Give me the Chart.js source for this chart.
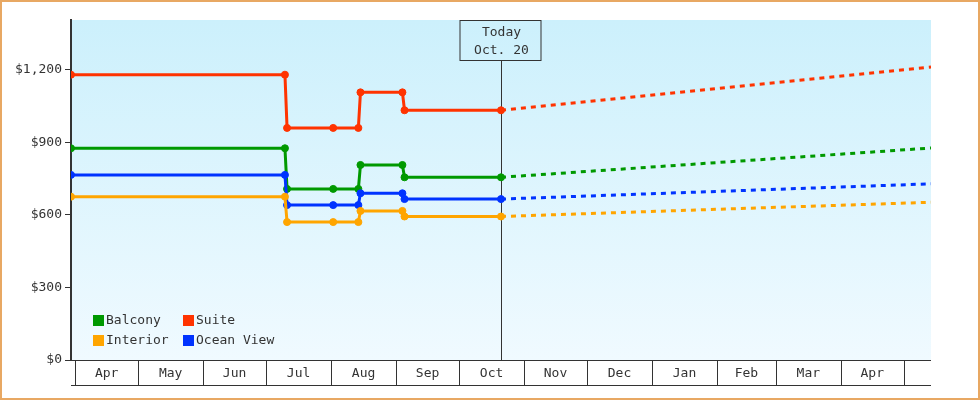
<!DOCTYPE html>
<html>
<head>
<meta charset="utf-8">
<script src="https://cdn.jsdelivr.net/npm/chart.js@4.4.1/dist/chart.umd.min.js"></script>
<style>
  html, body { margin: 0; padding: 0; background: #fff; }
  #wrap { width: 980px; height: 400px; position: relative; }
</style>
</head>
<body>
<div id="wrap"><canvas id="fareChart" width="980" height="400"></canvas></div>
<script>
// ---- data (x = days since Apr 1) ----
const priceDays = [-2, 100, 101, 123, 135, 136, 156, 157, 203];
const balcony = [875, 875, 707, 707, 707, 806, 806, 755, 755];
const suite = [1179, 1179, 959, 959, 959, 1106, 1106, 1032, 1032];
const interior = [675, 675, 570, 570, 570, 616, 616, 593, 593];
const oceanView = [765, 765, 640, 640, 640, 689, 689, 665, 665];

const forecastDays = [203, 408];
const balconyForecast = [755, 876];
const suiteForecast = [1032, 1211];
const interiorForecast = [593, 652];
const oceanViewForecast = [665, 728];

const monthLabels = ['Apr', 'May', 'Jun', 'Jul', 'Aug', 'Sep', 'Oct', 'Nov', 'Dec', 'Jan', 'Feb', 'Mar', 'Apr'];
const monthStarts = [0, 30, 61, 91, 122, 153, 183, 214, 244, 275, 306, 334, 365, 395];
const yTicks = [0, 300, 600, 900, 1200];

const todayDay = 203;
const todayLines = ['Today', 'Oct. 20'];

const COLORS = {
    balcony: '#009900',
    suite: '#ff3300',
    interior: '#ffa500',
    oceanView: '#0033ff'
};
const INK = '#333333';
const FONT = "'DejaVu Sans Mono', monospace";

function toPoints(days, values) {
    return days.map((d, i) => ({ x: d, y: values[i] }));
}

function solidSet(label, values, color) {
    return {
        label: label,
        data: toPoints(priceDays, values),
        borderColor: color,
        backgroundColor: color,
        borderWidth: 3,
        pointRadius: 3.5,
        pointHoverRadius: 3.5,
        pointBorderWidth: 1,
        showLine: true
    };
}

function dashedSet(label, values, color) {
    return {
        label: label,
        data: toPoints(forecastDays, values),
        borderColor: color,
        backgroundColor: color,
        borderWidth: 3,
        borderDash: [5, 5],
        pointRadius: 0,
        showLine: true
    };
}

// fond dégradé, bordure orange
const backdropPlugin = {
    id: 'backdrop',
    beforeDraw(chart) {
        const { ctx, chartArea } = chart;
        ctx.save();
        ctx.fillStyle = '#ffffff';
        ctx.fillRect(0, 0, chart.width, chart.height);
        const g = ctx.createLinearGradient(0, chartArea.top, 0, chartArea.bottom);
        g.addColorStop(0, '#ccf0fc');
        g.addColorStop(1, '#f0faff');
        ctx.fillStyle = g;
        ctx.fillRect(chartArea.left, chartArea.top, chartArea.right - chartArea.left, chartArea.bottom - chartArea.top);
        ctx.strokeStyle = '#e8a863';
        ctx.lineWidth = 2;
        ctx.strokeRect(1, 1, chart.width - 2, chart.height - 2);
        ctx.restore();
    }
};

// repère "Today"
const todayPlugin = {
    id: 'today',
    beforeDatasetsDraw(chart) {
        const { ctx, chartArea, scales } = chart;
        const x = Math.round(scales.x.getPixelForValue(todayDay)) + 0.5;
        const boxW = 81, boxH = 40;
        const top = chartArea.top;
        ctx.save();
        ctx.strokeStyle = INK;
        ctx.lineWidth = 1;
        ctx.beginPath();
        ctx.moveTo(x, top + boxH);
        ctx.lineTo(x, chartArea.bottom);
        ctx.stroke();
        ctx.strokeRect(Math.round(x - boxW / 2) - 1, top + 0.5, boxW, boxH);
        ctx.fillStyle = INK;
        ctx.font = '13px ' + FONT;
        ctx.textAlign = 'center';
        ctx.textBaseline = 'middle';
        ctx.fillText(todayLines[0], x, top + 13);
        ctx.fillText(todayLines[1], x, top + 31);
        ctx.restore();
    }
};

// axe des mois en cases + légende
const monthAxisPlugin = {
    id: 'monthAxis',
    afterDraw(chart) {
        const { ctx, chartArea, scales } = chart;
        const xs = scales.x;
        const y0 = chartArea.bottom + 0.5;
        const y1 = chartArea.bottom + 25.5;
        ctx.save();
        ctx.strokeStyle = INK;
        ctx.lineWidth = 1;
        ctx.beginPath();
        ctx.moveTo(chartArea.left, y0);
        ctx.lineTo(chartArea.right, y0);
        ctx.moveTo(chartArea.left, y1);
        ctx.lineTo(chartArea.right, y1);
        monthStarts.forEach(d => {
            const px = Math.round(xs.getPixelForValue(d)) + 0.5;
            ctx.moveTo(px, y0);
            ctx.lineTo(px, y1);
        });
        ctx.stroke();

        ctx.fillStyle = INK;
        ctx.font = '13px ' + FONT;
        ctx.textAlign = 'center';
        ctx.textBaseline = 'middle';
        monthLabels.forEach((m, i) => {
            const a = xs.getPixelForValue(monthStarts[i]);
            const b = xs.getPixelForValue(monthStarts[i + 1]);
            ctx.fillText(m, (a + b) / 2, chartArea.bottom + 14);
        });

        // légende
        const items = [
            { t: 'Balcony', c: COLORS.balcony, col: 0, row: 0 },
            { t: 'Suite', c: COLORS.suite, col: 1, row: 0 },
            { t: 'Interior', c: COLORS.interior, col: 0, row: 1 },
            { t: 'Ocean View', c: COLORS.oceanView, col: 1, row: 1 }
        ];
        ctx.textAlign = 'left';
        items.forEach(it => {
            const lx = 93 + it.col * 90;
            const ly = 315 + it.row * 20;
            ctx.fillStyle = it.c;
            ctx.fillRect(lx, ly, 11, 11);
            ctx.fillStyle = INK;
            ctx.fillText(it.t, lx + 13, ly + 6);
        });
        ctx.restore();
    }
};

const ctx = document.getElementById('fareChart').getContext('2d');
new Chart(ctx, {
    type: 'scatter',
    data: {
        datasets: [
            dashedSet('Suite forecast', suiteForecast, COLORS.suite),
            dashedSet('Balcony forecast', balconyForecast, COLORS.balcony),
            dashedSet('Ocean View forecast', oceanViewForecast, COLORS.oceanView),
            dashedSet('Interior forecast', interiorForecast, COLORS.interior),
            solidSet('Interior', interior, COLORS.interior),
            solidSet('Ocean View', oceanView, COLORS.oceanView),
            solidSet('Balcony', balcony, COLORS.balcony),
            solidSet('Suite', suite, COLORS.suite)
        ]
    },
    options: {
        responsive: false,
        animation: false,
        layout: { padding: { top: 20, right: 49, bottom: 40, left: 0 } },
        plugins: {
            legend: { display: false },
            tooltip: { enabled: false }
        },
        scales: {
            x: {
                type: 'linear',
                min: -2,
                max: 408,
                display: false
            },
            y: {
                min: 0,
                max: 1405,
                afterFit(scale) { scale.width = 71; },
                afterBuildTicks(scale) { scale.ticks = yTicks.map(v => ({ value: v })); },
                grid: {
                    drawOnChartArea: false,
                    color: INK,
                    tickLength: 6,
                    tickWidth: 1
                },
                border: { display: true, color: INK, width: 2 },
                ticks: {
                    color: INK,
                    padding: 3,
                    font: { family: FONT, size: 13 },
                    callback: v => '$' + v.toLocaleString('en-US')
                }
            }
        }
    },
    plugins: [backdropPlugin, todayPlugin, monthAxisPlugin]
});
</script>
</body>
</html>
